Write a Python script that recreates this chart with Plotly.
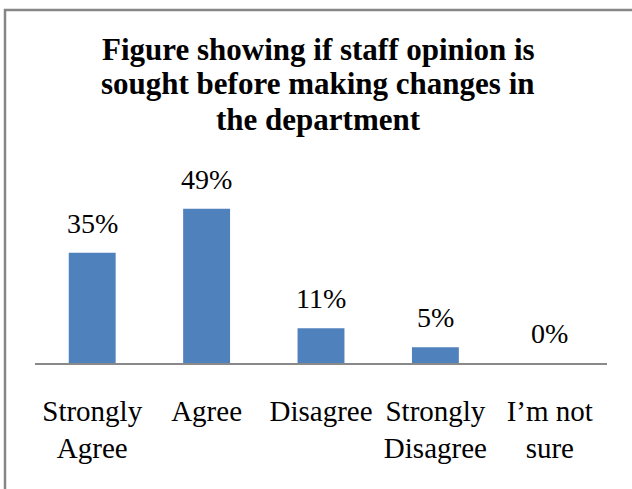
import plotly.graph_objects as go

# Survey responses: is staff opinion sought before changes are made?
categories = ["Strongly<br>Agree", "Agree", "Disagree", "Strongly<br>Disagree", "I\u2019m not<br>sure"]
shares = [0.35, 0.49, 0.11, 0.05, 0.00]
share_labels = ["35%", "49%", "11%", "5%", "0%"]
title_lines = [
    "Figure showing if staff opinion is",
    "sought before making changes in",
    "the department",
]

SERIF = "Liberation Serif, Times New Roman, serif"
BAR_BLUE = "#4F81BD"
AXIS_GREY = "#898989"
FRAME_GREY = "#868686"

W, H = 632, 489
M_L, M_R, M_T, M_B = 35, 25, 174, 126
plot_w = W - M_L - M_R
plot_h = H - M_T - M_B


def paper_y(px):
    """Convert a page pixel row to a paper y coordinate."""
    return (H - M_B - px) / plot_h


def paper_x(px):
    return (px - M_L) / plot_w


fig = go.Figure()
fig.add_trace(go.Bar(
    x=categories,
    y=shares,
    width=0.41,
    marker=dict(color=BAR_BLUE, line=dict(width=0)),
    hoverinfo="skip",
))

# value labels sitting above each bar
for cat, val, lab in zip(categories, shares, share_labels):
    fig.add_annotation(
        x=cat, y=val, text=lab, showarrow=False,
        xref="x", yref="y", yanchor="bottom", yshift=12,
        font=dict(family=SERIF, size=28, color="#000000"),
    )

# bold three-line heading, one annotation per line for tighter leading
for i, line in enumerate(title_lines):
    fig.add_annotation(
        x=paper_x(318), y=paper_y(49 + 35 * i),
        xref="paper", yref="paper",
        xanchor="center", yanchor="middle",
        text=f"<b>{line}</b>", showarrow=False,
        font=dict(family=SERIF, size=31, color="#000000"),
    )

# outer chart frame (left and top edges fall inside the page)
fig.add_shape(
    type="rect", xref="paper", yref="paper",
    x0=paper_x(5), x1=1.3,
    y0=-1.5, y1=paper_y(10),
    line=dict(color=FRAME_GREY, width=2.5),
    fillcolor="rgba(0,0,0,0)", layer="above",
)

fig.update_layout(
    width=W, height=H,
    margin=dict(l=M_L, r=M_R, t=M_T, b=M_B, pad=0),
    paper_bgcolor="#FFFFFF",
    plot_bgcolor="#FFFFFF",
    showlegend=False,
    xaxis=dict(
        type="category",
        showgrid=False, zeroline=False,
        showline=True, linecolor=AXIS_GREY, linewidth=1.5,
        ticks="", ticklabelstandoff=21,
        tickfont=dict(family=SERIF, size=29, color="#000000"),
        fixedrange=True,
    ),
    yaxis=dict(
        range=[0, 0.6],
        visible=False, showgrid=False, zeroline=False,
        fixedrange=True,
    ),
)

fig.write_html("out.html")
